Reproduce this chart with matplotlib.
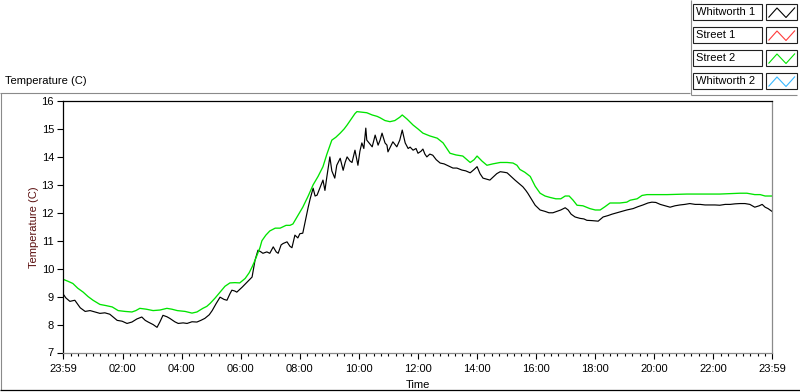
import matplotlib
matplotlib.use("Agg")
import matplotlib.pyplot as plt
from matplotlib.lines import Line2D
from matplotlib.patches import Rectangle
import numpy as np

plt.rcParams['font.family'] = ['Liberation Sans', 'DejaVu Sans']
plt.rcParams['font.size'] = 8

# ---------------- data ----------------
# time in minutes since midnight (-1 = 23:59 of previous day)
black_t = [-1, 5, 13, 23, 34, 44, 54, 64, 74, 84, 94, 109, 119, 129, 139, 149, 159, 166, 172, 182,
           190, 196, 202, 210, 216, 226, 233, 243, 251, 261, 271, 279, 287, 296, 302, 310, 318, 326,
           332, 338, 342, 348, 352, 363, 373, 383, 389, 395, 401, 405, 413, 419, 426, 432, 436, 442,
           446, 454, 460, 464, 470, 476, 480, 486, 491, 497, 501, 507, 511, 515, 521, 527, 531, 535,
           541, 545, 551, 555, 562, 568, 572, 576, 582, 586, 592, 598, 602, 606, 610, 614, 616, 623,
           627, 633, 639, 643, 647, 653, 657, 659, 665, 669, 673, 677, 683, 688, 694, 700, 704, 710,
           716, 720, 726, 730, 734, 738, 744, 750, 757, 765, 773, 779, 785, 791, 799, 809, 817, 826,
           834, 840, 846, 852, 860, 866, 874, 880, 887, 895, 901, 909, 917, 925, 933, 939, 943, 950,
           958, 968, 978, 986, 994, 1002, 1010, 1019, 1025, 1031, 1039, 1049, 1057, 1063, 1073, 1086,
           1096, 1106, 1114, 1124, 1134, 1144, 1157, 1167, 1177, 1187, 1195, 1203, 1212, 1222, 1232,
           1242, 1252, 1262, 1272, 1283, 1293, 1303, 1313, 1323, 1333, 1344, 1354, 1364, 1374, 1384,
           1394, 1404, 1413, 1419, 1425, 1431, 1439]
black_v = [9.1, 8.95, 8.83, 8.87, 8.6, 8.47, 8.5, 8.45, 8.4, 8.42, 8.37, 8.15, 8.12, 8.04, 8.09, 8.2,
           8.27, 8.15, 8.09, 8.0, 7.9, 8.1, 8.33, 8.28, 8.22, 8.1, 8.04, 8.06, 8.04, 8.1, 8.09, 8.15,
           8.22, 8.35, 8.5, 8.75, 8.98, 8.9, 8.87, 9.1, 9.23, 9.2, 9.16, 9.34, 9.52, 9.7, 10.3, 10.66,
           10.6, 10.55, 10.6, 10.55, 10.78, 10.6, 10.55, 10.85, 10.9, 10.96, 10.8, 10.75, 11.2, 11.1,
           11.25, 11.27, 11.7, 12.2, 12.5, 12.88, 12.6, 12.63, 12.9, 13.17, 12.8, 13.3, 14.0, 13.5,
           13.24, 13.7, 13.95, 13.52, 13.8, 14.0, 13.85, 13.8, 14.24, 13.7, 14.2, 14.5, 14.3, 15.03,
           14.6, 14.45, 14.36, 14.78, 14.42, 14.6, 14.85, 14.5, 14.42, 14.18, 14.4, 14.54, 14.45,
           14.36, 14.6, 14.96, 14.5, 14.3, 14.35, 14.24, 14.3, 14.13, 14.2, 14.28, 14.1, 14.0, 14.1,
           14.06, 13.9, 13.78, 13.75, 13.7, 13.65, 13.6, 13.6, 13.53, 13.5, 13.43, 13.55, 13.65, 13.4,
           13.24, 13.2, 13.17, 13.3, 13.4, 13.47, 13.45, 13.43, 13.3, 13.17, 13.05, 12.93, 12.8, 12.7,
           12.5, 12.27, 12.1, 12.05, 12.0, 12.0, 12.05, 12.1, 12.18, 12.1, 11.95, 11.85, 11.8, 11.78,
           11.73, 11.72, 11.7, 11.85, 11.9, 11.95, 12.0, 12.05, 12.1, 12.15, 12.22, 12.28, 12.35,
           12.38, 12.37, 12.3, 12.25, 12.2, 12.25, 12.28, 12.3, 12.33, 12.3, 12.3, 12.28, 12.28, 12.28,
           12.27, 12.3, 12.3, 12.32, 12.33, 12.33, 12.3, 12.2, 12.25, 12.3, 12.2, 12.15, 12.05]

green_t = [-1, 9, 19, 29, 40, 50, 60, 74, 86, 99, 111, 125, 139, 147, 155, 168, 182, 196, 210, 220,
           231, 247, 261, 271, 283, 291, 298, 308, 318, 328, 338, 348, 358, 369, 377, 383, 389, 393,
           399, 403, 411, 419, 430, 440, 452, 460, 466, 476, 486, 497, 507, 517, 527, 535, 545, 553,
           562, 570, 576, 586, 592, 596, 606, 616, 627, 637, 643, 653, 663, 673, 683, 688, 698, 710,
           720, 730, 744, 759, 771, 785, 797, 811, 826, 834, 840, 850, 860, 872, 887, 901, 913, 921,
           927, 937, 948, 958, 968, 978, 988, 1000, 1010, 1019, 1027, 1035, 1043, 1055, 1069, 1080,
           1090, 1100, 1110, 1130, 1144, 1151, 1165, 1175, 1185, 1212, 1226, 1266, 1293, 1333, 1374,
           1388, 1404, 1415, 1425, 1439]
green_v = [9.62, 9.55, 9.47, 9.3, 9.16, 9.0, 8.87, 8.72, 8.68, 8.63, 8.5, 8.47, 8.45, 8.5, 8.58, 8.55,
           8.5, 8.52, 8.58, 8.55, 8.5, 8.47, 8.41, 8.45, 8.58, 8.65, 8.76, 8.95, 9.16, 9.37, 9.49, 9.5,
           9.49, 9.65, 9.85, 10.06, 10.3, 10.48, 10.75, 11.0, 11.2, 11.35, 11.45, 11.45, 11.55, 11.55,
           11.6, 11.9, 12.2, 12.6, 13.0, 13.3, 13.65, 14.1, 14.6, 14.7, 14.85, 15.0, 15.14, 15.4, 15.55,
           15.62, 15.6, 15.58, 15.5, 15.45, 15.4, 15.3, 15.26, 15.3, 15.42, 15.5, 15.35, 15.14, 15.0,
           14.85, 14.75, 14.67, 14.5, 14.13, 14.07, 14.03, 13.8, 13.9, 14.03, 13.85, 13.7, 13.75, 13.8,
           13.8, 13.78, 13.7, 13.55, 13.45, 13.3, 12.95, 12.7, 12.6, 12.55, 12.5, 12.5, 12.6, 12.6,
           12.45, 12.27, 12.25, 12.15, 12.1, 12.1, 12.22, 12.35, 12.35, 12.38, 12.45, 12.5, 12.62,
           12.65, 12.65, 12.65, 12.67, 12.67, 12.67, 12.7, 12.7, 12.65, 12.65, 12.6, 12.6]

series_names = ['Whitworth 1', 'Street 1', 'Street 2', 'Whitworth 2']
series_colors = ['#000000', '#ff3b3b', '#00e400', '#38b8ff']

y_ticks = [7, 8, 9, 10, 11, 12, 13, 14, 15, 16]
x_major = [-1, 120, 240, 360, 480, 600, 720, 840, 960, 1080, 1200, 1320, 1439]
x_labels = ['23:59', '02:00', '04:00', '06:00', '08:00', '10:00', '12:00',
            '14:00', '16:00', '18:00', '20:00', '22:00', '23:59']
x_minor = list(range(0, 1440, 15))

# ---------------- layout helpers ----------------
W, H = 800, 392
def fx(x): return x / W
def fy(y): return 1 - y / H

fig = plt.figure(figsize=(W / 100, H / 100), dpi=100, facecolor='white')

def fline(xs, ys, color, lw=1.0):
    fig.add_artist(Line2D([fx(v) for v in xs], [fy(v) for v in ys], color=color, lw=lw,
                          transform=fig.transFigure, solid_capstyle='butt'))

# outer panel frame
fline([0, 690], [92.5, 92.5], '#8a8a8a', 0.8)
fline([1, 1], [92.5, 390], '#8a8a8a', 0.8)
fline([0, 800], [390, 390], '#000000', 0.9)
# legend panel frame
fline([690.5, 690.5], [0, 94.5], '#8a8a8a', 0.8)
fline([690.5, 797], [94.5, 94.5], '#8a8a8a', 0.8)

fig.text(fx(5), fy(81), 'Temperature (C)', ha='left', va='center', fontsize=8, color='#000000')

# ---------------- plot area ----------------
ax = fig.add_axes([fx(63), fy(352.5), (772 - 63) / W, (352.5 - 101) / H])
ax.set_facecolor('white')
ax.plot(black_t, black_v, color=series_colors[0], lw=0.85)
ax.plot(green_t, green_v, color=series_colors[2], lw=0.95)

ax.set_xlim(-1, 1439)
ax.set_ylim(7, 16)
ax.set_yticks(y_ticks)
ax.set_yticklabels([str(v) for v in y_ticks])
ax.set_xticks(x_major)
ax.set_xticklabels(x_labels)
ax.set_xticks([m for m in x_minor if m not in x_major], minor=True)

for side, col in (('left', '#000000'), ('top', '#000000'), ('right', '#8a8a8a'), ('bottom', '#8a8a8a')):
    ax.spines[side].set_color(col)
    ax.spines[side].set_linewidth(0.9)

ax.tick_params(axis='y', which='major', direction='out', length=4, width=0.8, pad=2.5,
               colors='#000000', labelsize=8)
ax.tick_params(axis='x', which='major', direction='out', length=4, width=0.8, pad=4.5,
               colors='#000000', labelsize=8)
ax.tick_params(axis='x', which='minor', direction='out', length=2.2, width=0.8, colors='#000000')

ax.set_xlabel('Time', fontsize=8, labelpad=4, color='#000000')
ax.set_ylabel('Temperature (C)', fontsize=8, labelpad=1.5, color='#5a0e0e')

# ---------------- legend ----------------
row_top = [4, 27, 50, 73]
row_h = 15.5
for name, col, y0 in zip(series_names, series_colors, row_top):
    fig.add_artist(Rectangle((fx(693), fy(y0 + row_h)), 69 / W, row_h / H, transform=fig.transFigure,
                             facecolor='white', edgecolor='#202020', lw=0.8))
    fig.text(fx(695.5), fy(y0 + row_h / 2 + 0.5), name, ha='left', va='center', fontsize=8, color='#000000')
    fig.add_artist(Rectangle((fx(766), fy(y0 + row_h)), 31 / W, row_h / H, transform=fig.transFigure,
                             facecolor='white', edgecolor='#202020', lw=0.8))
    zx = [768.5, 777, 786, 795]
    zy = [y0 + 13.5, y0 + 4, y0 + 13.5, y0 + 3.5]
    fline(zx, zy, col, 0.8)

fig.savefig('out.png', dpi=100, facecolor='white')
